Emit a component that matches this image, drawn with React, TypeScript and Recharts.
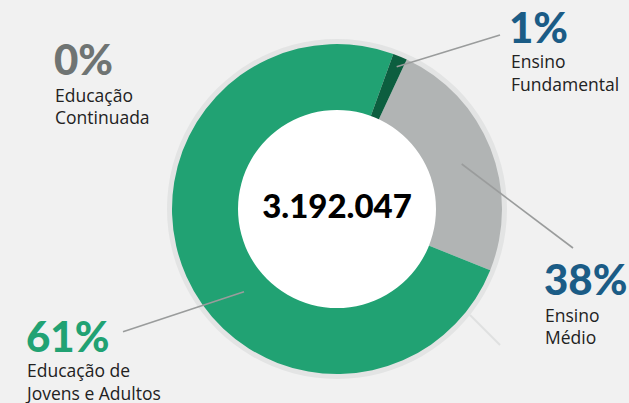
import React from "react";
import { PieChart, Pie, Cell } from "recharts";

// Data (shares as drawn in the ring)
const categories = ["Ensino Médio", "Educação de Jovens e Adultos", "Ensino Fundamental", "Educação Continuada"];
const shares = [24.1, 74.5, 1.4, 0];
const percentLabels = ["38%", "61%", "1%", "0%"];
const nameLines = [["Ensino", "Médio"], ["Educação de", "Jovens e Adultos"], ["Ensino", "Fundamental"], ["Educação", "Continuada"]];
const totalLabel = "3.192.047";

const colors = ["#b1b4b4", "#21a273", "#0c5e3f", "#cfd2d2"];
const pctColors = ["#1b5c86", "#21a273", "#1b5c86", "#6f7473"];

// Annotation layout
const layout = [
  { line: [461.7, 164, 573, 248], pct: [544, 295], text: [545, 321.5] },
  { line: [244, 291.7, 123, 331.7], pct: [26, 351.5], text: [27, 377] },
  { line: [396.7, 66.7, 500, 35], pct: [509, 43], text: [511, 68] },
  { line: null, pct: [54, 75], text: [55, 101.5] },
];

const data = categories.map((name, i) => ({ name, value: shares[i] }));
const ring = [{ name: "ring", value: 1 }];

const FONT_NUM = "Lato, sans-serif";
const FONT_TXT = "'Open Sans', sans-serif";

function renderLabel(props: any) {
  const i = props.index;
  const l = layout[i];
  if (!l) return null;
  return (
    <g key={"lab" + i}>
      {l.line && (
        <line x1={l.line[0]} y1={l.line[1]} x2={l.line[2]} y2={l.line[3]} stroke="#9a9c9c" strokeWidth={1.6} />
      )}
      <text x={l.pct[0]} y={l.pct[1]} fill={pctColors[i]} fontFamily={FONT_NUM} fontWeight={900} fontSize={42}>
        {percentLabels[i]}
      </text>
      {nameLines[i].map((t, k) => (
        <text key={k} x={l.text[0]} y={l.text[1] + k * 22.5} fill="#222" fontFamily={FONT_TXT} fontSize={17.5}>
          {t}
        </text>
      ))}
    </g>
  );
}

function renderCenter(props: any) {
  return (
    <text key="center" x={props.cx} y={props.cy + 9} textAnchor="middle" fill="#000" fontFamily={FONT_NUM} fontWeight={900} fontSize={33}>
      {totalLabel}
    </text>
  );
}

export default function App() {
  return (
    <div style={{ position: "fixed", left: 0, top: 0, width: 629, height: 403, background: "#f1f1f1", overflow: "hidden" }}>
      <PieChart width={629} height={403} margin={{ top: 0, right: 0, bottom: 0, left: 0 }}>
        <Pie data={ring} dataKey="value" cx={337} cy={209} innerRadius={163} outerRadius={170} fill="#e3e4e4" stroke="none" isAnimationActive={false} />
        <line x1={470} y1={315} x2={500} y2={345} stroke="#dfe0e0" strokeWidth={2} />
        <Pie
          data={data}
          dataKey="value"
          cx={337}
          cy={209}
          innerRadius={98}
          outerRadius={165}
          startAngle={65}
          endAngle={-295}
          stroke="none"
          label={renderLabel}
          labelLine={false}
          isAnimationActive={false}
        >
          {data.map((d, i) => (
            <Cell key={d.name} fill={colors[i]} />
          ))}
        </Pie>
        <Pie
          data={ring}
          dataKey="value"
          cx={337}
          cy={209}
          innerRadius={0}
          outerRadius={99}
          fill="#ffffff"
          stroke="none"
          label={renderCenter}
          labelLine={false}
          isAnimationActive={false}
        />
      </PieChart>
    </div>
  );
}
